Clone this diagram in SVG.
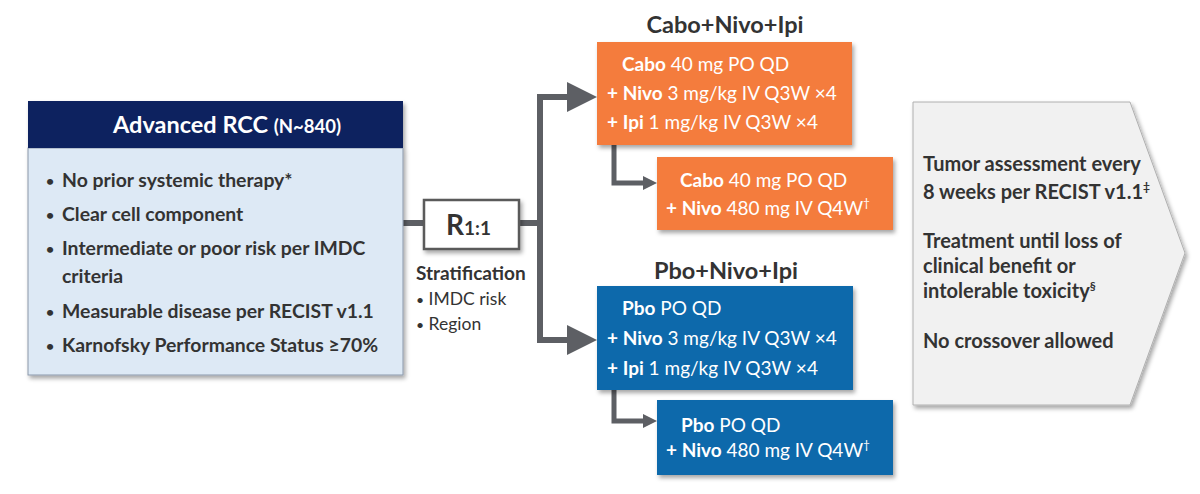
<svg xmlns="http://www.w3.org/2000/svg" width="1200" height="494" viewBox="0 0 1200 494">
<defs>
<filter id="sh" x="-10%" y="-10%" width="130%" height="130%">
<feDropShadow dx="2" dy="3" stdDeviation="2" flood-color="#000" flood-opacity="0.35"/>
</filter>
<marker id="bigArrow" viewBox="0 0 30 30" refX="0" refY="15" markerWidth="30" markerHeight="30" markerUnits="userSpaceOnUse" orient="auto">
<path d="M0,0 L30,15 L0,30 Z" fill="#5d5f64"/>
</marker>
<marker id="smallArrow" viewBox="0 0 14 14" refX="0" refY="7" markerWidth="14" markerHeight="14" markerUnits="userSpaceOnUse" orient="auto">
<path d="M0,0 L14,7 L0,14 Z" fill="#5d5f64"/>
</marker>
</defs>
<style>
text { font-family: Lato, "Open Sans", sans-serif; }
.b { font-weight: bold; }
.dark { fill: #333333; }
.w { fill: #ffffff; }
.body { font-size: 19.4px; font-weight: bold; fill: #333333; }
.bul { font-size: 14px; }
.fu { font-size: 20px; font-weight: bold; fill: #333333; }
.arm { font-size: 19px; fill: #ffffff; }
.title { font-size: 23.5px; font-weight: bold; fill: #333333; }
.conn { fill: none; stroke: #5d5f64; stroke-width: 6; }
.conn2 { fill: none; stroke: #5d5f64; stroke-width: 5; }
.orange { fill: #f47b3d; }
.blue { fill: #0d69ab; }
</style>
<rect width="1200" height="494" fill="#ffffff"/>

<g id="connectors">
<path class="conn" d="M403 223 H424"/>
<path class="conn" d="M519 223 H540"/>
<path class="conn" d="M540 223 V97 H567" marker-end="url(#bigArrow)"/>
<path class="conn" d="M540 223 V340 H567" marker-end="url(#bigArrow)"/>
<path class="conn2" d="M614 145 V183 H643" marker-end="url(#smallArrow)"/>
<path class="conn2" d="M614 390 V421 H643" marker-end="url(#smallArrow)"/>
</g>

<g id="population">
<g filter="url(#sh)">
<rect x="28" y="148" width="375" height="227" fill="#dde9f5" stroke="#8b98aa" stroke-width="1"/>
<rect x="28" y="101" width="375" height="47" fill="#0b215e"/>
</g>
<text x="113" y="133" class="w b" font-size="23.5">Advanced RCC <tspan font-size="18.5">(N~840)</tspan></text>
<g class="body">
<text x="46" y="186" class="bul">•</text><text x="62" y="187">No prior systemic therapy*</text>
<text x="46" y="220" class="bul">•</text><text x="62" y="221">Clear cell component</text>
<text x="46" y="254" class="bul">•</text><text x="62" y="255">Intermediate or poor risk per IMDC</text>
<text x="62" y="283">criteria</text>
<text x="46" y="317" class="bul">•</text><text x="62" y="318">Measurable disease per RECIST v1.1</text>
<text x="46" y="351" class="bul">•</text><text x="62" y="352">Karnofsky Performance Status ≥70%</text>
</g>
</g>

<g id="randomization">
<rect x="424" y="200" width="95" height="49" fill="#ffffff" stroke="#5a5a5a" stroke-width="2.5" filter="url(#sh)"/>
<text x="446" y="235" class="dark b" font-size="28">R<tspan font-size="19">1:1</tspan></text>
<text x="416" y="280" class="dark b" font-size="19">Stratification</text>
<text x="416" y="305" class="dark" font-size="17.5"><tspan font-size="14">•</tspan> IMDC risk</text>
<text x="416" y="330" class="dark" font-size="17.5"><tspan font-size="14">•</tspan> Region</text>
</g>

<g id="arm-cabo">
<text x="725" y="33" class="title" text-anchor="middle">Cabo+Nivo+Ipi</text>
<rect x="597" y="42" width="255" height="103" class="orange" filter="url(#sh)"/>
<text x="622" y="71" class="arm"><tspan class="b">Cabo</tspan> 40 mg PO QD</text>
<text x="607" y="100" class="arm"><tspan class="b">+ Nivo</tspan> 3 mg/kg IV Q3W ×4</text>
<text x="607" y="129" class="arm"><tspan class="b">+ Ipi</tspan> 1 mg/kg IV Q3W ×4</text>
</g>

<g id="arm-cabo-maint">
<rect x="657" y="157" width="236" height="73" class="orange" filter="url(#sh)"/>
<text x="680" y="187" class="arm"><tspan class="b">Cabo</tspan> 40 mg PO QD</text>
<text x="666" y="215" class="arm"><tspan class="b">+ Nivo</tspan> 480 mg IV Q4W<tspan font-size="12" dy="-8">†</tspan></text>
</g>

<g id="arm-pbo">
<text x="726" y="279" class="title" text-anchor="middle">Pbo+Nivo+Ipi</text>
<rect x="597" y="286" width="256" height="104" class="blue" filter="url(#sh)"/>
<text x="622" y="315" class="arm"><tspan class="b">Pbo</tspan> PO QD</text>
<text x="607" y="345" class="arm"><tspan class="b">+ Nivo</tspan> 3 mg/kg IV Q3W ×4</text>
<text x="607" y="375" class="arm"><tspan class="b">+ Ipi</tspan> 1 mg/kg IV Q3W ×4</text>
</g>

<g id="arm-pbo-maint">
<rect x="657" y="400" width="236" height="75" class="blue" filter="url(#sh)"/>
<text x="681" y="432" class="arm"><tspan class="b">Pbo</tspan> PO QD</text>
<text x="666" y="457" class="arm"><tspan class="b">+ Nivo</tspan> 480 mg IV Q4W<tspan font-size="12" dy="-8">†</tspan></text>
</g>

<g id="follow-up">
<polygon points="913,102 1130,102 1185,253 1130,405 913,405" fill="#f1f1f1" stroke="#b0b0b0" stroke-width="1" filter="url(#sh)"/>
<g class="fu">
<text x="923" y="171">Tumor assessment every</text>
<text x="923" y="199">8 weeks per RECIST v1.1<tspan font-size="12" dy="-8">‡</tspan></text>
<text x="923" y="248">Treatment until loss of</text>
<text x="923" y="273">clinical benefit or</text>
<text x="923" y="298">intolerable toxicity<tspan font-size="12" dy="-8">§</tspan></text>
<text x="923" y="348">No crossover allowed</text>
</g>
</g>
</svg>
